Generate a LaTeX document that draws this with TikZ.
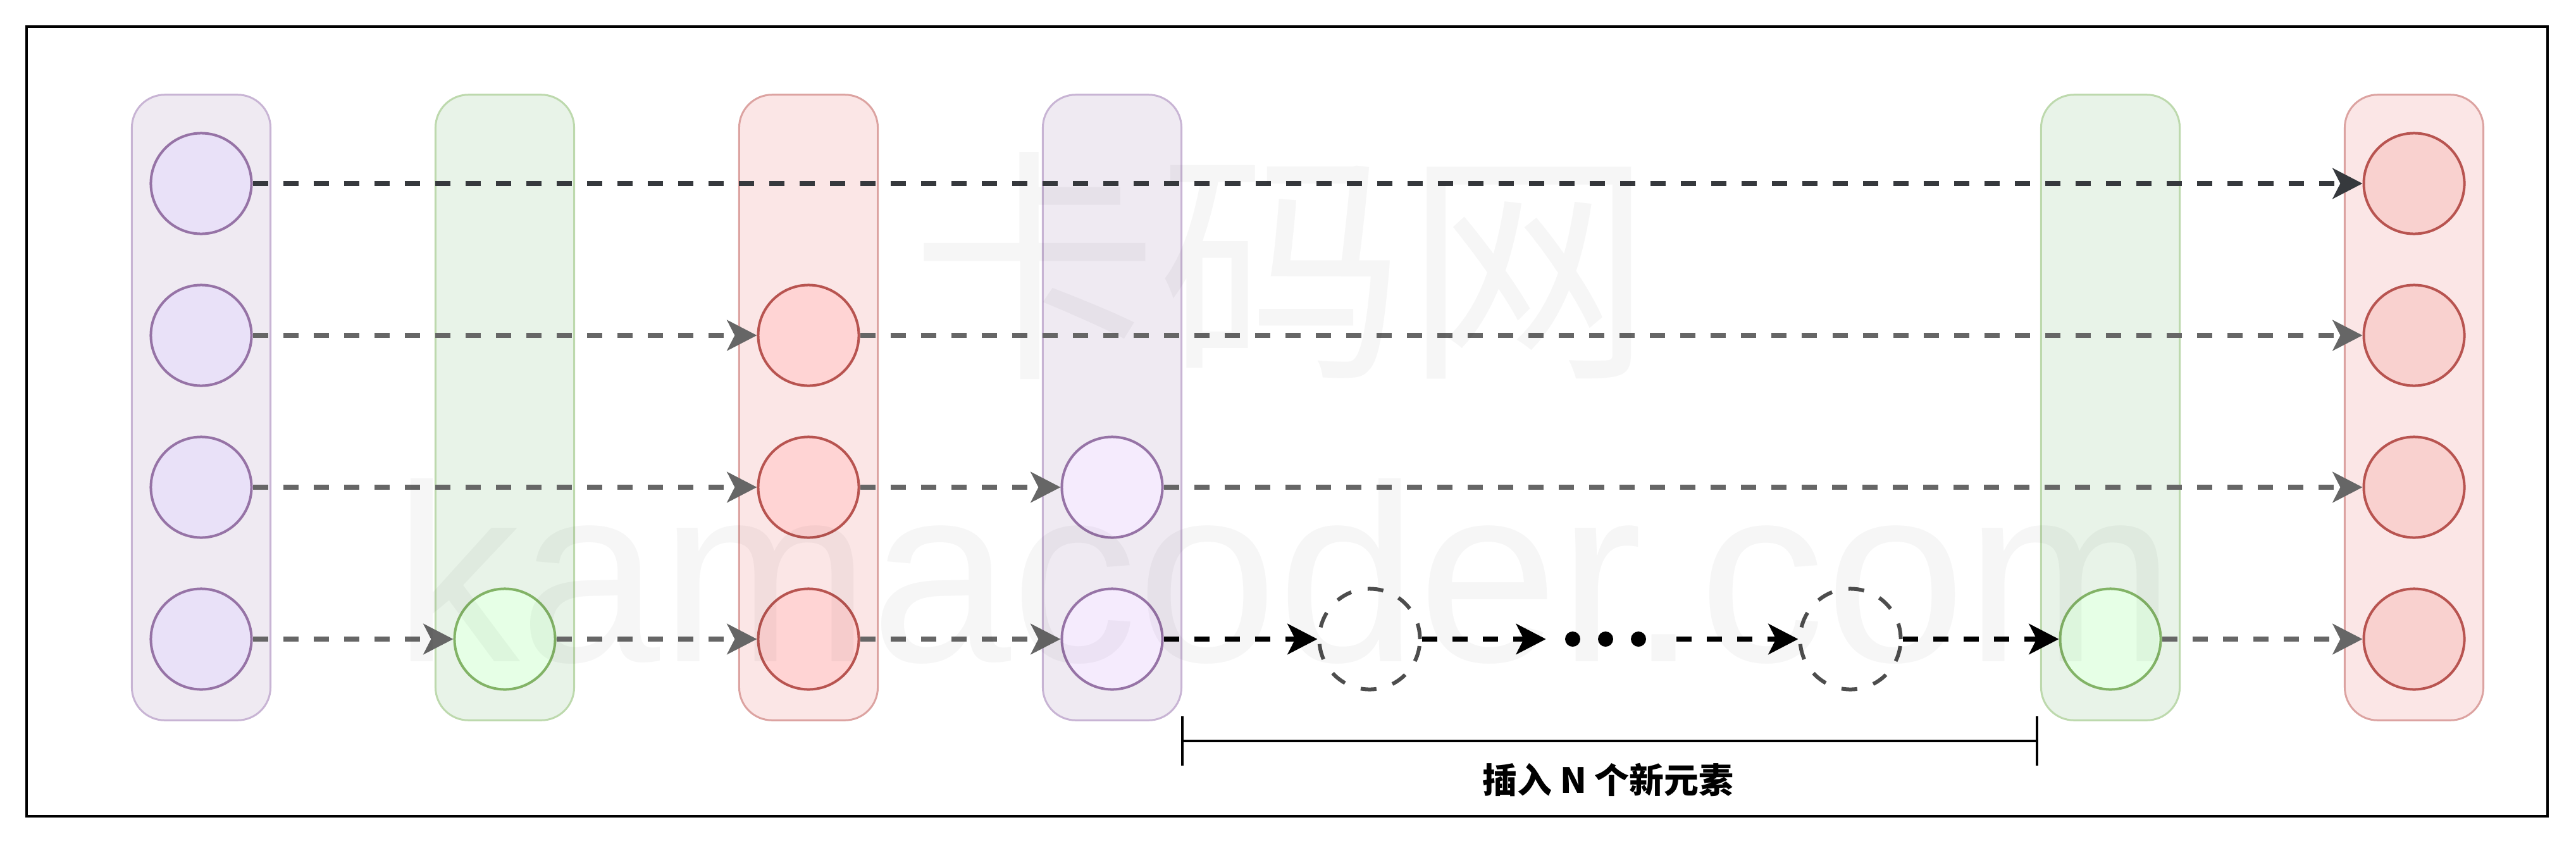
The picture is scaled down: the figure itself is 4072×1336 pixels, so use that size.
\documentclass[tikz,border=0pt]{standalone}
\usepackage{fontspec}
\usetikzlibrary{arrows.meta,positioning}
\newfontfamily\cjkfont{Noto Sans CJK SC}
\newfontfamily\markfont{Liberation Sans}

\begin{document}
\begin{tikzpicture}[x=0.01cm, y=-0.01cm,
    colbox/.style={rectangle, rounded corners=0.52cm, minimum width=2.19cm, minimum height=9.88cm, line width=0.03cm, inner sep=0},
    elem/.style={circle, minimum size=1.59cm, line width=0.04cm, inner sep=0},
    ghost/.style={circle, minimum size=1.59cm, line width=0.06cm, inner sep=0, draw=ghostedge, dash pattern=on 0.25cm off 0.265cm},
    link/.style={line width=0.08cm, dash pattern=on 0.24cm off 0.24cm, -{Stealth[length=0.47cm, width=0.48cm, inset=0.12cm]}}]
        \definecolor{purplebox}{HTML}{EFEAF2}
        \definecolor{purpleedge}{HTML}{C8B4D4}
        \definecolor{greenbox}{HTML}{E8F3E8}
        \definecolor{greenedge}{HTML}{BDD9AD}
        \definecolor{redbox}{HTML}{FBE6E6}
        \definecolor{rededge}{HTML}{DCA3A1}
        \definecolor{purplefill}{HTML}{E9E1F8}
        \definecolor{lilacfill}{HTML}{F5EBFD}
        \definecolor{purplestroke}{HTML}{9673A6}
        \definecolor{greenfill}{HTML}{E6FFE6}
        \definecolor{greenstroke}{HTML}{82B366}
        \definecolor{pinkfill}{HTML}{FFD4D4}
        \definecolor{redfill}{HTML}{F9D1CF}
        \definecolor{redstroke}{HTML}{B85450}
        \definecolor{ghostedge}{HTML}{4D4D4D}
        \definecolor{rowdark}{HTML}{36393D}
        \definecolor{linegray}{HTML}{666666}

        \useasboundingbox (0,0) rectangle (4072,1336);

        % Outer frame
        \draw[line width=0.04cm] (42,42) rectangle (4027,1290);

        % Column boxes
        \node[colbox, draw=purpleedge, fill=purplebox] (colA) at (318,644) {};
        \node[colbox, draw=greenedge, fill=greenbox] (colB) at (798,644) {};
        \node[colbox, draw=rededge, fill=redbox] (colC) at (1278,644) {};
        \node[colbox, draw=purpleedge, fill=purplebox] (colD) at (1758,644) {};
        \node[colbox, draw=greenedge, fill=greenbox] (colE) at (3336,644) {};
        \node[colbox, draw=rededge, fill=redbox] (colF) at (3816,644) {};

        % First column
        \node[elem, draw=purplestroke, fill=purplefill] (a1) at (318,290) {};
        \node[elem, draw=purplestroke, fill=purplefill] (a2) at (318,530) {};
        \node[elem, draw=purplestroke, fill=purplefill] (a3) at (318,770) {};
        \node[elem, draw=purplestroke, fill=purplefill] (a4) at (318,1010) {};

        % Second column
        \node[elem, draw=greenstroke, fill=greenfill] (b4) at (798,1010) {};

        % Third column
        \node[elem, draw=redstroke, fill=pinkfill] (c2) at (1278,530) {};
        \node[elem, draw=redstroke, fill=pinkfill] (c3) at (1278,770) {};
        \node[elem, draw=redstroke, fill=pinkfill] (c4) at (1278,1010) {};

        % Fourth column
        \node[elem, draw=purplestroke, fill=lilacfill] (d3) at (1758,770) {};
        \node[elem, draw=purplestroke, fill=lilacfill] (d4) at (1758,1010) {};

        % New elements
        \node[ghost] (n1) at (2165,1010) {};
        \node[inner sep=0, minimum width=2.05cm, minimum height=0.24cm] (dots) at (2547,1010) {};
        \fill (2486,1010) circle (0.12cm);
        \fill (2538,1010) circle (0.12cm);
        \fill (2590,1010) circle (0.12cm);
        \node[ghost] (n2) at (2925,1010) {};

        % Fifth column
        \node[elem, draw=greenstroke, fill=greenfill] (e4) at (3336,1010) {};

        % Last column
        \node[elem, draw=redstroke, fill=redfill] (f1) at (3816,290) {};
        \node[elem, draw=redstroke, fill=redfill] (f2) at (3816,530) {};
        \node[elem, draw=redstroke, fill=redfill] (f3) at (3816,770) {};
        \node[elem, draw=redstroke, fill=redfill] (f4) at (3816,1010) {};

        % Arrows
        \draw[link, rowdark] (a1) -- (f1);
        \draw[link, linegray] (a2) -- (c2);
        \draw[link, linegray] (c2) -- (f2);
        \draw[link, linegray] (a3) -- (c3);
        \draw[link, linegray] (c3) -- (d3);
        \draw[link, linegray] (d3) -- (f3);
        \draw[link, linegray] (a4) -- (b4);
        \draw[link, linegray] (b4) -- (c4);
        \draw[link, linegray] (c4) -- (d4);
        \draw[link, black] (d4) -- (n1);
        \draw[link, black] (n1) -- (dots);
        \draw[link, black] (dots) -- (n2);
        \draw[link, black] (n2) -- (e4);
        \draw[link, linegray] (e4) -- (f4);

        % Bracket and label
        \coordinate (brL) at (1869,1171);
        \coordinate (brR) at (3220,1171);
        \draw[line width=0.035cm] (brL) ++(0,-39) -- ++(0,78) (brL) -- (brR) ++(0,-39) -- ++(0,78);
        \node[font=\cjkfont\bfseries\fontsize{15.6}{18}\selectfont, inner sep=0] (lbl) at (2542,1232) {插入 N 个新元素};

        % Watermark
        \node[font=\cjkfont\fontsize{111}{120}\selectfont, text=black, opacity=0.035, inner sep=0] (markcn) at (2026,420) {卡码网};
        \node[font=\markfont\fontsize{113.5}{120}\selectfont, text=black, opacity=0.035, inner sep=0, anchor=base] (marken) at (2031,1045) {kamacoder.com};
    \end{tikzpicture}
\end{document}
